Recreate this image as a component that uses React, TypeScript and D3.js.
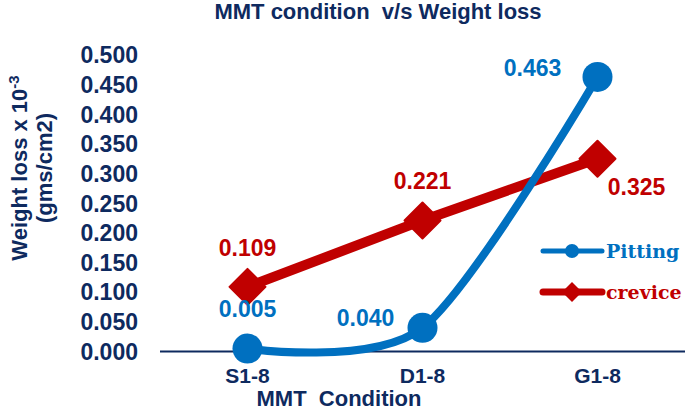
import * as d3 from 'd3'

// values
const categories = ['S1-8', 'D1-8', 'G1-8']
const pitting = [0.005, 0.04, 0.463]
const crevice = [0.109, 0.221, 0.325]
const yTickValues = [0, 0.05, 0.1, 0.15, 0.2, 0.25, 0.3, 0.35, 0.4, 0.45, 0.5]

const W = 685, H = 412
const navy = '#0e2a5f'
const blue = '#0070c0'
const red = '#c00000'
const sans = '"Liberation Sans", Arial, sans-serif'
const serif = '"DejaVu Serif", Cambria, serif'

// label offsets from each point (px)
const pitOff = [[0, -32], [-57, -2], [-65, -1]]
const crevOff = [[0, -31], [0, -31], [39, 36]]

const App = () => {
  const x = d3.scalePoint<string>().domain(categories).range([160, 685]).padding(0.5)
  const y = d3.scaleLinear().domain([0, 0.5]).range([351.5, 55])

  const pitLine = d3.line<number>()
    .x((_, i) => x(categories[i])!)
    .y(d => y(d))
    .curve(d3.curveCardinal.tension(0.15))
  const crevLine = d3.line<number>()
    .x((_, i) => x(categories[i])!)
    .y(d => y(d))

  const fmt = d3.format('.3f')
  const diamond = (cx: number, cy: number, r: number) =>
    `M${cx},${cy - r}L${cx + r},${cy}L${cx},${cy + r}L${cx - r},${cy}Z`

  return (
    <svg width={W} height={H} style={{ position: 'absolute', left: 0, top: 0, background: '#fff' }}>
      <text x={378} y={19} textAnchor="middle" fontFamily={sans} fontWeight="bold" fontSize={22}
        fill={navy} style={{ whiteSpace: 'pre' }}>{'MMT condition  v/s Weight loss'}</text>

      {/* y axis labels */}
      {yTickValues.map(v => (
        <text key={v} x={138} y={y(v)} dy="0.36em" textAnchor="end" fontFamily={sans}
          fontWeight="bold" fontSize={23} fill={navy}>{fmt(v)}</text>
      ))}
      <g transform="translate(27,168) rotate(-90)" fontFamily={sans} fontWeight="bold" fontSize={22} fill={navy}>
        <text textAnchor="middle">Weight loss x 10<tspan dy={-8} fontSize={15}>-3</tspan></text>
        <text y={25} textAnchor="middle">(gms/cm2)</text>
      </g>

      {/* x axis */}
      <line x1={160} x2={685} y1={y(0)} y2={y(0)} stroke={navy} strokeWidth={2} />
      {categories.map(c => (
        <text key={c} x={x(c)} y={383} textAnchor="middle" fontFamily={sans} fontWeight="bold"
          fontSize={21} fill={navy}>{c}</text>
      ))}
      <text x={339} y={406} textAnchor="middle" fontFamily={sans} fontWeight="bold" fontSize={22}
        fill={navy} style={{ whiteSpace: 'pre' }}>{'MMT  Condition'}</text>

      {/* crevice series */}
      <path d={crevLine(crevice)!} fill="none" stroke={red} strokeWidth={10} strokeLinejoin="round" />
      {crevice.map((v, i) => (
        <path key={i} d={diamond(x(categories[i])!, y(v), 18)} fill={red} stroke={red}
          strokeWidth={2} strokeLinejoin="round" />
      ))}

      {/* pitting series */}
      <path d={pitLine(pitting)!} fill="none" stroke={blue} strokeWidth={8} strokeLinecap="round" />
      {pitting.map((v, i) => (
        <circle key={i} cx={x(categories[i])} cy={y(v)} r={15} fill={blue} />
      ))}

      {/* data labels */}
      {pitting.map((v, i) => (
        <text key={'p' + i} x={x(categories[i])! + pitOff[i][0]} y={y(v) + pitOff[i][1]}
          textAnchor="middle" fontFamily={sans} fontWeight="bold" fontSize={23} fill={blue}>{fmt(v)}</text>
      ))}
      {crevice.map((v, i) => (
        <text key={'c' + i} x={x(categories[i])! + crevOff[i][0]} y={y(v) + crevOff[i][1]}
          textAnchor="middle" fontFamily={sans} fontWeight="bold" fontSize={23} fill={red}>{fmt(v)}</text>
      ))}

      {/* legend */}
      <g>
        <line x1={543} x2={602} y1={251} y2={251} stroke={blue} strokeWidth={5} strokeLinecap="round" />
        <circle cx={572} cy={251} r={7} fill={blue} />
        <text x={606} y={258} fontFamily={serif} fontWeight="bold" fontSize={19} fill={blue}>Pitting</text>
        <line x1={543} x2={602} y1={292} y2={292} stroke={red} strokeWidth={7} strokeLinecap="round" />
        <path d={diamond(572, 292, 10)} fill={red} />
        <text x={606} y={299} fontFamily={serif} fontWeight="bold" fontSize={19} fill={red}>crevice</text>
      </g>
    </svg>
  )
}

export default App
